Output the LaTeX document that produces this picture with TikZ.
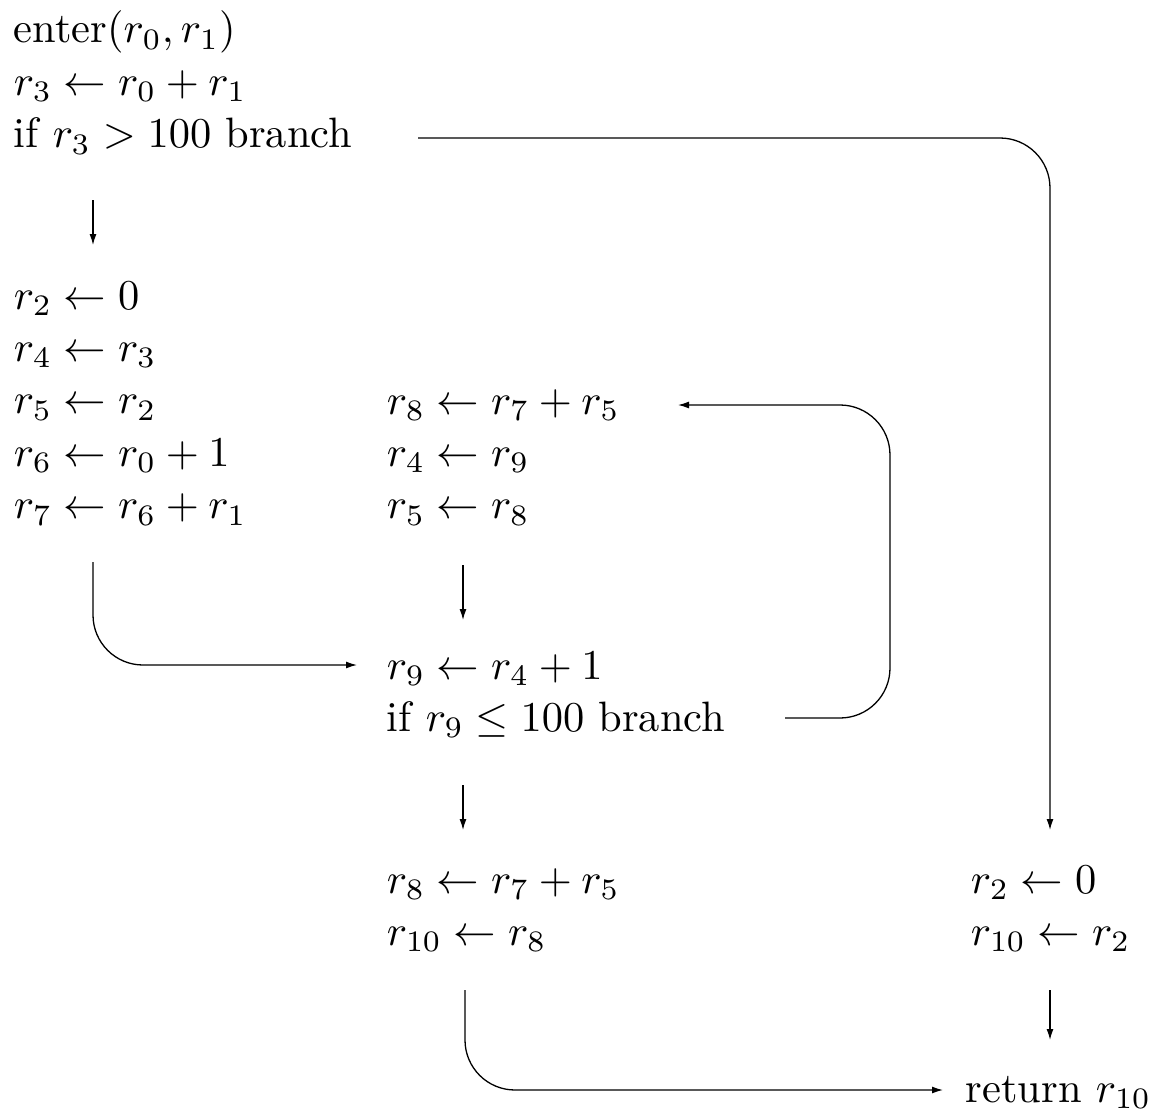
\documentclass[tikz,border=0pt]{standalone}
\usetikzlibrary{arrows.meta}

% one code block: lines set flush left, baseline on the first line
\newcommand\codelines[1]{\begin{tabular}[t]{@{}l@{}}#1\end{tabular}}

\tikzset{
  code/.style={font=\fontsize{10}{12.35}\selectfont, inner sep=0pt,
    anchor=base west, scale=4.25, transform shape},
  flow/.style={line width=1.3pt, -{Latex[length=11pt,width=7pt]}},
  roundbend/.style={rounded corners=50pt},
}

\begin{document}
\begin{tikzpicture}[x=1pt,y=-1pt]
  \useasboundingbox (0,0) rectangle (1149,1116);

  % basic blocks
  \node[code] (A) at (13,43)
    {\codelines{enter$(r_0, r_1)$\\ $r_3 \leftarrow r_0 + r_1$\\ if $r_3 > 100$ branch}};
  \node[code] (B) at (13,309)
    {\codelines{$r_2 \leftarrow 0$\\ $r_4 \leftarrow r_3$\\ $r_5 \leftarrow r_2$\\
      $r_6 \leftarrow r_0 + 1$\\ $r_7 \leftarrow r_6 + r_1$}};
  \node[code] (C) at (386,414)
    {\codelines{$r_8 \leftarrow r_7 + r_5$\\ $r_4 \leftarrow r_9$\\ $r_5 \leftarrow r_8$}};
  \node[code] (D) at (386,679)
    {\codelines{$r_9 \leftarrow r_4 + 1$\\ if $r_9 \leq 100$ branch}};
  \node[code] (E) at (386,893)
    {\codelines{$r_8 \leftarrow r_7 + r_5$\\ $r_{10} \leftarrow r_8$}};
  \node[code] (F) at (970,893)
    {\codelines{$r_2 \leftarrow 0$\\ $r_{10} \leftarrow r_2$}};
  \node[code] (G) at (965,1102) {return $r_{10}$};

  % connector ends
  \coordinate (Aout)  at (93,200);
  \coordinate (Ajump) at (418,138);
  \coordinate (Bin)   at (93,245);
  \coordinate (Bout)  at (93,562);
  \coordinate (Cin)   at (678,405);
  \coordinate (Cout)  at (463,565);
  \coordinate (Din)   at (463,620);
  \coordinate (Dside) at (357,665);
  \coordinate (Djump) at (785,718);
  \coordinate (Dout)  at (463,785);
  \coordinate (Ein)   at (463,830);
  \coordinate (Eout)  at (465,990);
  \coordinate (Fin)   at (1050,830);
  \coordinate (Fout)  at (1050,990);
  \coordinate (Gin)   at (1050,1040);
  \coordinate (Gside) at (943,1090);
  \coordinate (loop)  at (890,0);

  % control flow
  \draw[flow] (Aout) -- (Bin);
  \draw[flow,roundbend] (Ajump) -| (Fin);
  \draw[flow,roundbend] (Bout) |- (Dside);
  \draw[flow] (Cout) -- (Din);
  \draw[flow,roundbend] (Djump) -| (loop |- Cin) -- (Cin);
  \draw[flow] (Dout) -- (Ein);
  \draw[flow,roundbend] (Eout) |- (Gside);
  \draw[flow] (Fout) -- (Gin);
\end{tikzpicture}
\end{document}
